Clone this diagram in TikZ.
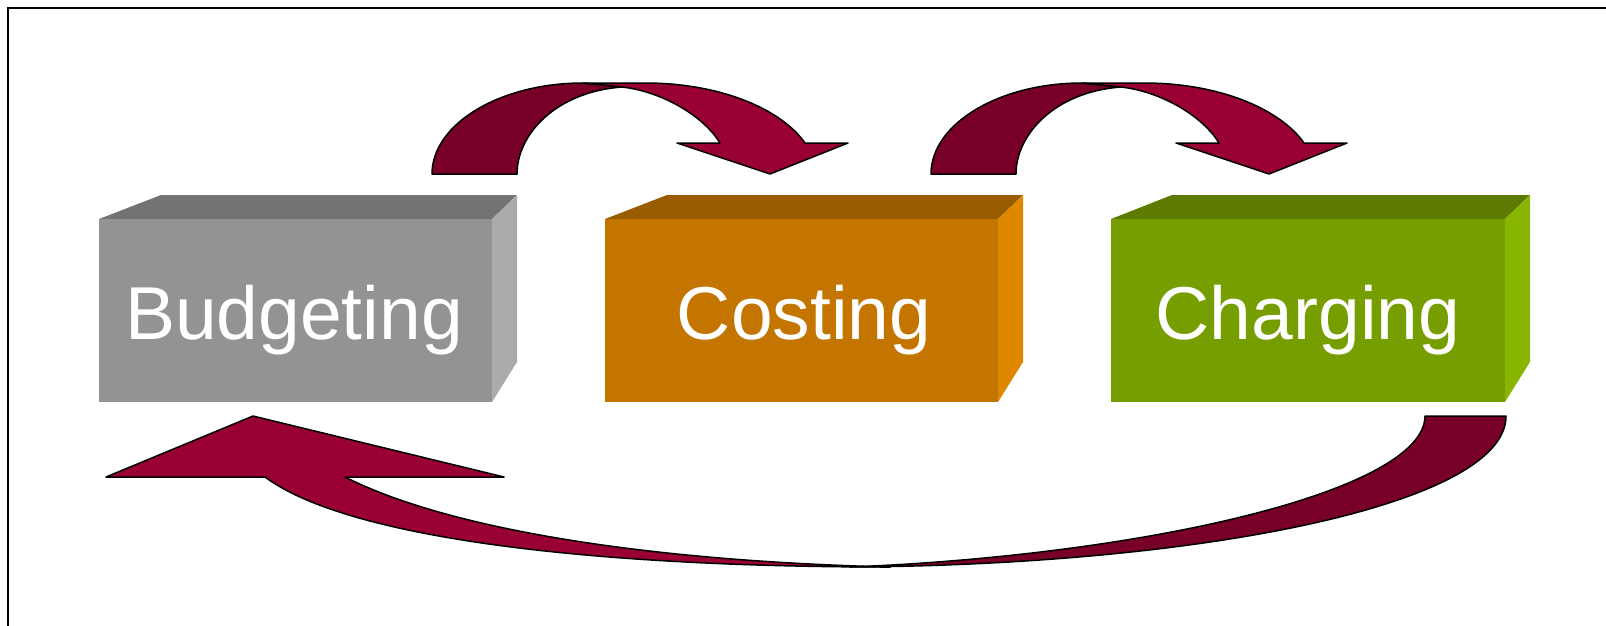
\documentclass[tikz,border=0pt]{standalone}
\usepackage{fontspec}
\setmainfont{Liberation Sans}
\definecolor{grayF}{HTML}{939393}
\definecolor{grayT}{HTML}{737373}
\definecolor{grayS}{HTML}{ABABAB}
\definecolor{orgF}{HTML}{C47500}
\definecolor{orgT}{HTML}{9A5C00}
\definecolor{orgS}{HTML}{E08700}
\definecolor{grnF}{HTML}{779E00}
\definecolor{grnT}{HTML}{5C7B00}
\definecolor{grnS}{HTML}{87B500}
\definecolor{arrDark}{HTML}{780028}
\definecolor{arrLight}{HTML}{990033}
\tikzset{
  darkband/.style={fill=arrDark, draw=black, line width=1.5pt, line join=round},
  lightband/.style={fill=arrLight, draw=black, line width=1.5pt, line join=round},
  lbl/.style={text=white, font=\fontsize{75}{75}\selectfont, inner sep=0pt, anchor=base},
  toparrow/.pic={
    \filldraw[darkband] (432,174) .. controls (432,124) and (500,83) .. (583,83)
      -- (622,87) .. controls (555,92) and (517,135) .. (517,174) -- cycle;
    \filldraw[lightband] (583,83) -- (645,83) .. controls (722,83) and (782,110) .. (805,143)
      -- (848,143) -- (770,174) -- (677,143) -- (720,143)
      .. controls (705,118) and (665,92) .. (622,87) -- cycle;
  }
}
\begin{document}
\begin{tikzpicture}[x=1pt,y=-1pt]
\useasboundingbox (0,0) rectangle (1606,625);
\fill[white] (0,0) rectangle (1606,625);
% frame
\draw[line width=2pt] (8,640) -- (8,8) -- (1620,8);

% Box 1: Budgeting
\fill[grayT] (99,219) -- (161,195) -- (517,195) -- (492,219) -- cycle;
\fill[grayS] (492,219) -- (517,195) -- (517,362) -- (492,402) -- cycle;
\fill[grayF] (99,219) rectangle (492,402);
\node[lbl] (budget) at (294,339) {Budgeting};

% Box 2: Costing
\fill[orgT] (605,219) -- (667,195) -- (1023,195) -- (998,219) -- cycle;
\fill[orgS] (998,219) -- (1023,195) -- (1023,362) -- (998,402) -- cycle;
\fill[orgF] (605,219) rectangle (998,402);
\node[lbl] (cost) at (804,339) {Costing};

% Box 3: Charging
\fill[grnT] (1111,219) -- (1172,195) -- (1530,195) -- (1505,219) -- cycle;
\fill[grnS] (1505,219) -- (1530,195) -- (1530,362) -- (1505,402) -- cycle;
\fill[grnF] (1111,219) rectangle (1505,402);
\node[lbl] (charge) at (1308,339) {Charging};

% top arrows
\pic (a1) at (0,0) {toparrow};
\pic (a2) at (499,0) {toparrow};

% bottom return arrow
\filldraw[darkband] (1506,416) .. controls (1506,505) and (1200,565) .. (850,567)
  .. controls (1150,555) and (1425,490) .. (1425,416) -- cycle;
\filldraw[lightband] (265,477) .. controls (350,540) and (600,567) .. (890,567)
  .. controls (650,561) and (450,530) .. (345,477)
  -- (504,477) -- (253,416) -- (106,477) -- cycle;
\end{tikzpicture}
\end{document}
